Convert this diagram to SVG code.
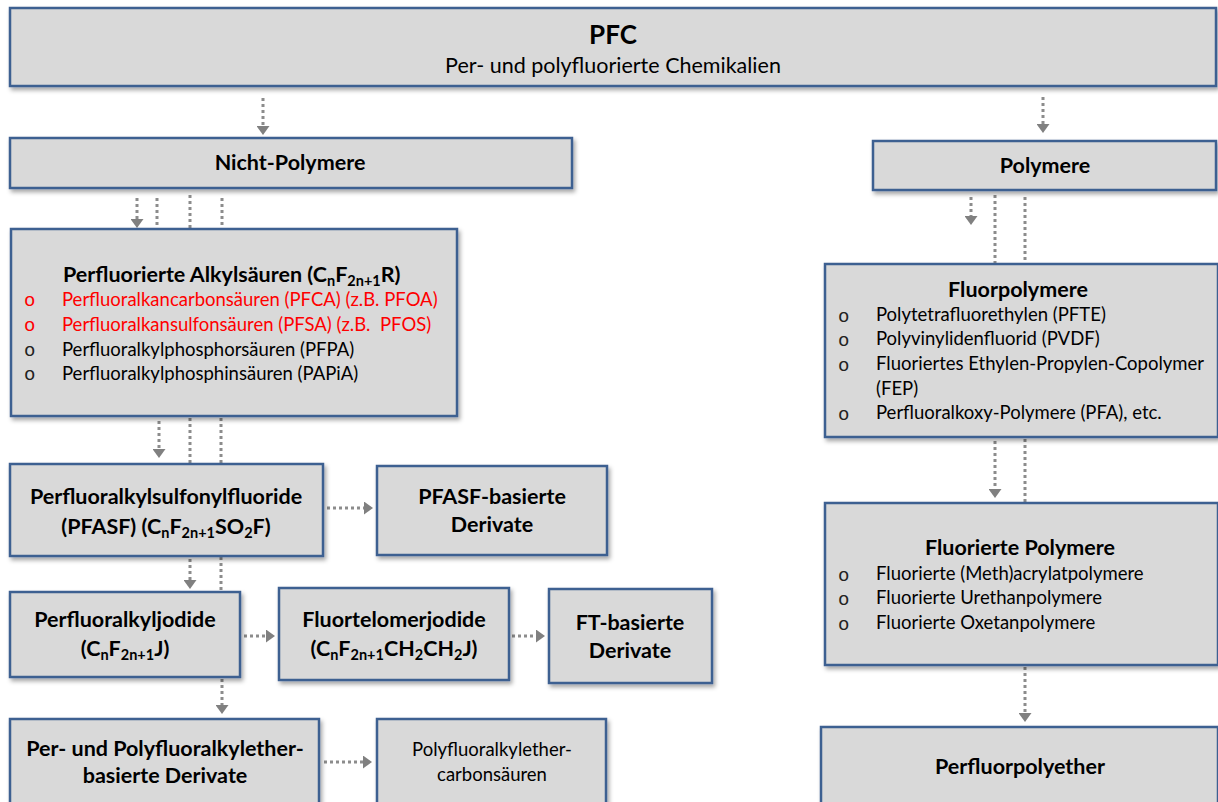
<svg xmlns="http://www.w3.org/2000/svg" width="1218" height="802" viewBox="0 0 1218 802">
<defs>
<filter id="sh" x="-5%" y="-5%" width="115%" height="125%">
<feDropShadow dx="2" dy="3" stdDeviation="2" flood-color="#000" flood-opacity="0.35"/>
</filter>
<marker id="ah" viewBox="0 0 9 13" markerWidth="9" markerHeight="13" refX="0" refY="6.5" orient="auto" markerUnits="userSpaceOnUse">
<path d="M0,0 L9,6.5 L0,13 z" fill="#808080"/>
</marker>
<style>
.box{fill:#d9d9d9;stroke:#3e6191;stroke-width:2.5;filter:url(#sh)}
.c{fill:none;stroke:#8c8c8c;stroke-width:3;stroke-dasharray:3 3}
.a{marker-end:url(#ah)}
text{font-family:Lato,"Open Sans","Liberation Sans",sans-serif;fill:#000}
.b{font-weight:bold;font-size:21.5px}
.m{text-anchor:middle}
.n{font-size:18.5px}
.r{fill:#ff0000}
.s{font-size:14.5px}
.o{font-family:"Liberation Mono",monospace;font-size:19px;fill:#222}
.o.r{fill:#ff0000}
</style>
</defs>

<g id="connectors">
<line class="c a" x1="263" y1="98" x2="263" y2="126"/>
<line class="c a" x1="1043" y1="97" x2="1043" y2="124"/>
<line class="c a" x1="137" y1="198" x2="137" y2="219"/>
<line class="c" x1="157" y1="198" x2="157" y2="229"/>
<line class="c" x1="190" y1="195" x2="190" y2="229"/>
<line class="c" x1="222" y1="198" x2="222" y2="229"/>
<line class="c a" x1="159" y1="421" x2="159" y2="449"/>
<line class="c" x1="190" y1="418" x2="190" y2="464"/>
<line class="c" x1="221" y1="418" x2="221" y2="464"/>
<line class="c a" x1="190" y1="559" x2="190" y2="580"/>
<line class="c" x1="221" y1="557" x2="221" y2="592"/>
<line class="c a" x1="222" y1="679" x2="222" y2="705"/>
<line class="c a" x1="971" y1="197" x2="971" y2="216"/>
<line class="c" x1="995" y1="195" x2="995" y2="264"/>
<line class="c" x1="1025" y1="197" x2="1025" y2="264"/>
<line class="c a" x1="995" y1="441" x2="995" y2="489"/>
<line class="c" x1="1025" y1="439" x2="1025" y2="503"/>
<line class="c a" x1="1025" y1="667" x2="1025" y2="713"/>
<line class="c a" x1="327" y1="508" x2="364" y2="508"/>
<line class="c a" x1="244" y1="636" x2="266" y2="636"/>
<line class="c a" x1="512" y1="636" x2="536" y2="636"/>
<line class="c a" x1="324" y1="762" x2="363" y2="762"/>
</g>

<g id="pfc">
<rect class="box" x="10" y="8" width="1206" height="78"/>
<text class="m" x="613" y="44" style="font-weight:bold;font-size:26px">PFC</text>
<text class="m" x="613" y="73" style="font-size:21.5px">Per- und polyfluorierte Chemikalien</text>
</g>

<g id="nicht-polymere">
<rect class="box" x="10" y="138" width="562" height="50"/>
<text class="b m" x="290" y="170">Nicht-Polymere</text>
</g>

<g id="polymere">
<rect class="box" x="873" y="141" width="343" height="49"/>
<text class="b m" x="1045" y="173">Polymere</text>
</g>

<g id="alkylsaeuren">
<rect class="box" x="11" y="229" width="446" height="187"/>
<text class="b" x="63" y="282">Perfluorierte Alkylsäuren (C<tspan class="s" dy="4">n</tspan><tspan dy="-4">F</tspan><tspan class="s" dy="4">2n+1</tspan><tspan dy="-4">R)</tspan></text>
<text class="o r" x="24" y="306">o</text><text class="n r" x="62" y="306">Perfluoralkancarbonsäuren (PFCA) (z.B. PFOA)</text>
<text class="o r" x="24" y="331">o</text><text class="n r" x="62" y="331">Perfluoralkansulfonsäuren (PFSA) (z.B.&#160; PFOS)</text>
<text class="o" x="24" y="356">o</text><text class="n" x="62" y="356">Perfluoralkylphosphorsäuren (PFPA)</text>
<text class="o" x="24" y="380">o</text><text class="n" x="62" y="380">Perfluoralkylphosphinsäuren (PAPiA)</text>
</g>

<g id="fluorpolymere">
<rect class="box" x="825" y="264" width="393" height="173"/>
<text class="b m" x="1018" y="297">Fluorpolymere</text>
<text class="o" x="838" y="322">o</text><text class="n" x="876" y="321">Polytetrafluorethylen (PFTE)</text>
<text class="o" x="838" y="346">o</text><text class="n" x="876" y="345">Polyvinylidenfluorid (PVDF)</text>
<text class="o" x="838" y="371">o</text><text class="n" x="876" y="370">Fluoriertes Ethylen-Propylen-Copolymer</text>
<text class="n" x="876" y="395">(FEP)</text>
<text class="o" x="838" y="420">o</text><text class="n" x="876" y="419">Perfluoralkoxy-Polymere (PFA), etc.</text>
</g>

<g id="fluorierte-polymere">
<rect class="box" x="825" y="503" width="393" height="162"/>
<text class="b m" x="1020" y="555">Fluorierte Polymere</text>
<text class="o" x="838" y="581">o</text><text class="n" x="876" y="580">Fluorierte (Meth)acrylatpolymere</text>
<text class="o" x="838" y="605">o</text><text class="n" x="876" y="604">Fluorierte Urethanpolymere</text>
<text class="o" x="838" y="630">o</text><text class="n" x="876" y="629">Fluorierte Oxetanpolymere</text>
</g>

<g id="perfluorpolyether">
<rect class="box" x="821" y="727" width="397" height="90"/>
<text class="b m" x="1020" y="774">Perfluorpolyether</text>
</g>

<g id="pfasf">
<rect class="box" x="10" y="464" width="313" height="92"/>
<text class="b m" x="166" y="504">Perfluoralkylsulfonylfluoride</text>
<text class="b m" x="166" y="534">(PFASF) (C<tspan class="s" dy="4">n</tspan><tspan dy="-4">F</tspan><tspan class="s" dy="4">2n+1</tspan><tspan dy="-4">SO</tspan><tspan class="s" dy="4">2</tspan><tspan dy="-4">F)</tspan></text>
</g>

<g id="pfasf-derivate">
<rect class="box" x="377" y="466" width="230" height="89"/>
<text class="b m" x="492" y="504">PFASF-basierte</text>
<text class="b m" x="492" y="532">Derivate</text>
</g>

<g id="jodide">
<rect class="box" x="10" y="592" width="230" height="85"/>
<text class="b m" x="125" y="627">Perfluoralkyljodide</text>
<text class="b m" x="125" y="656">(C<tspan class="s" dy="4">n</tspan><tspan dy="-4">F</tspan><tspan class="s" dy="4">2n+1</tspan><tspan dy="-4">J)</tspan></text>
</g>

<g id="telomerjodide">
<rect class="box" x="279" y="588" width="230" height="92"/>
<text class="b m" x="394" y="627">Fluortelomerjodide</text>
<text class="b m" x="394" y="656">(C<tspan class="s" dy="4">n</tspan><tspan dy="-4">F</tspan><tspan class="s" dy="4">2n+1</tspan><tspan dy="-4">CH</tspan><tspan class="s" dy="4">2</tspan><tspan dy="-4">CH</tspan><tspan class="s" dy="4">2</tspan><tspan dy="-4">J)</tspan></text>
</g>

<g id="ft-derivate">
<rect class="box" x="549" y="589" width="163" height="94"/>
<text class="b m" x="630" y="630">FT-basierte</text>
<text class="b m" x="630" y="658">Derivate</text>
</g>

<g id="ether-derivate">
<rect class="box" x="10" y="719" width="309" height="95"/>
<text class="b m" x="165" y="756">Per- und Polyfluoralkylether-</text>
<text class="b m" x="165" y="783">basierte Derivate</text>
</g>

<g id="ether-carbonsaeuren">
<rect class="box" x="377" y="719" width="229" height="95"/>
<text class="n m" x="492" y="756">Polyfluoralkylether-</text>
<text class="n m" x="492" y="781">carbonsäuren</text>
</g>
</svg>
